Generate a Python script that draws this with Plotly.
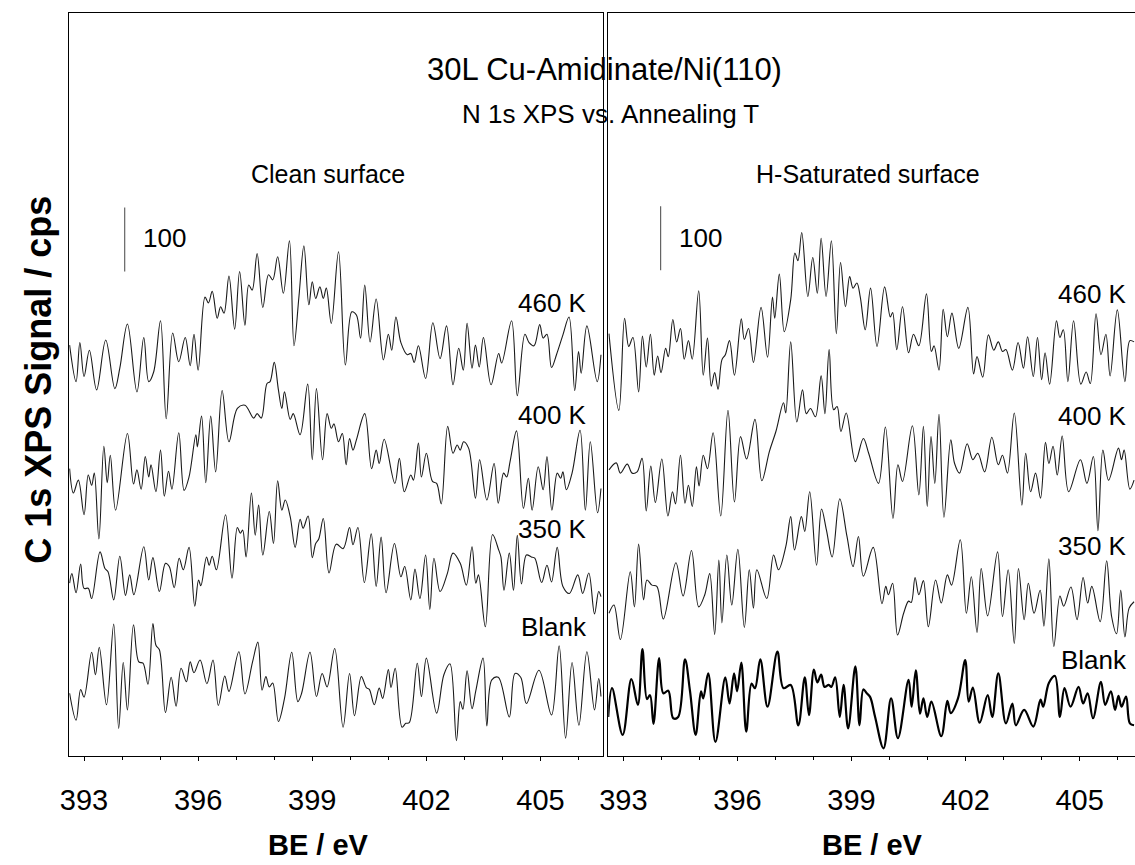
import plotly.graph_objects as go

# ---------------- data (BE in eV, signal in cps incl. stacking offset) ----------------
clean_460_be = [392.62,392.79,392.89,393.00,393.14,393.33,393.57,393.81,393.94,394.14,
394.39,394.57,394.70,394.83,395.01,395.16,395.33,395.49,395.66,395.79,
395.89,396.00,396.18,396.27,396.37,396.50,396.59,396.68,396.81,396.96,
397.09,397.23,397.33,397.42,397.55,397.70,397.85,397.96,398.09,398.24,
398.40,398.52,398.65,398.78,398.91,399.00,399.09,399.20,399.29,399.37,
399.50,399.69,399.87,400.04,400.16,400.27,400.38,400.52,400.68,400.87,
401.00,401.09,401.20,401.33,401.50,401.59,401.68,401.79,401.98,402.17,
402.36,402.53,402.70,402.85,402.97,403.07,403.20,403.29,403.39,403.50,
403.70,403.90,403.98,404.24,404.39,404.59,404.70,404.83,404.98,405.07,
405.17,405.29,405.42,405.59,405.75,405.90,406.00,406.07,406.22,406.49,406.59]
clean_460_cps = [642,585,646,593,634,572,650,574,606,675,
569,654,585,600,680,527,661,616,654,610,
659,603,717,708,726,684,702,692,750,667,
757,673,736,728,785,701,752,744,780,723,
805,641,718,797,705,741,715,733,715,731,
676,788,611,694,689,653,736,647,714,619,
659,634,686,646,627,629,615,641,590,677,
621,672,580,637,603,676,606,642,608,654,
580,629,614,680,563,659,646,641,674,653,
659,607,627,658,686,571,632,598,672,585,627]

clean_400_be = [392.62,392.72,392.85,393.00,393.11,393.20,393.27,393.39,393.52,393.61,
393.69,393.83,394.14,394.30,394.39,394.50,394.61,394.70,394.76,394.89,
395.01,395.11,395.22,395.31,395.49,395.63,395.76,395.94,395.98,396.09,
396.20,396.33,396.46,396.63,396.81,397.03,397.23,397.46,397.55,397.66,
397.81,397.89,398.00,398.11,398.20,398.27,398.42,398.50,398.68,398.88,
399.00,399.11,399.27,399.39,399.50,
399.57,399.69,399.79,399.89,399.98,400.07,400.16,400.38,400.56,400.68,400.76,400.89,
401.17,401.29,401.42,401.59,401.66,401.79,401.87,402.00,402.16,402.27,402.39,
402.56,402.70,402.81,402.89,402.98,403.11,403.29,403.40,403.59,403.78,403.89,
404.03,404.11,404.20,404.37,404.55,404.68,404.78,404.94,405.07,405.17,405.30,
405.44,405.53,405.59,405.68,405.83,406.04,406.18,406.31,406.50,406.59]
clean_400_cps = [449,411,431,377,439,423,442,339,484,427,
470,384,504,425,447,417,468,436,455,413,
478,406,445,417,505,415,436,502,483,531,
427,531,444,571,491,543,548,528,535,528,
582,585,615,572,543,569,526,535,502,581,
463,574,463,535,512,
519,491,504,455,496,478,494,535,449,478,457,495,
426,465,413,439,431,489,436,473,429,426,394,
515,473,486,478,491,481,403,463,400,457,395,
442,436,460,508,387,434,384,452,416,468,384,
442,434,444,416,442,509,384,491,380,418]

clean_350_be = [392.62,392.68,392.79,392.91,393.00,393.11,393.20,393.42,393.55,393.63,
393.78,393.94,394.09,394.20,394.31,394.57,394.70,394.81,394.98,395.14,
395.24,395.37,395.50,395.61,395.76,395.91,396.01,396.07,396.22,396.29,
396.37,396.48,396.72,396.89,397.03,397.11,397.17,397.26,397.40,397.50,
397.59,397.70,397.87,397.98,398.09,398.20,398.29,398.42,398.55,398.68,
398.76,398.89,399.00,399.09,399.17,399.29,399.44,
399.63,399.81,399.98,400.07,400.20,400.37,400.55,400.68,400.81,400.94,
401.16,401.33,401.43,401.59,401.70,401.83,401.98,402.09,402.20,402.36,
402.55,402.70,402.89,403.05,403.20,403.30,403.37,403.55,403.74,403.90,
403.96,404.04,404.18,404.29,404.39,404.50,404.63,404.76,404.85,405.03,
405.17,405.29,405.44,405.59,405.76,405.98,406.11,406.27,406.42,406.53,406.59]
clean_350_cps = [270,285,255,300,262,262,246,319,293,288,
244,312,251,283,252,327,275,310,257,301,
296,263,309,291,326,234,275,266,311,298,
312,291,377,278,357,348,353,311,411,345,
392,314,382,332,430,384,400,374,326,370,
356,375,310,332,339,371,286,
331,324,357,330,357,271,347,265,342,255,
332,280,296,244,292,246,314,229,309,257,
285,317,301,267,327,270,283,202,346,322,
311,259,317,259,345,269,314,311,309,271,
298,272,326,265,254,283,254,286,222,257,249]

clean_blank_be = [392.62,392.79,392.91,393.00,393.20,393.30,393.40,393.59,393.78,393.91,
394.03,394.14,394.30,394.44,394.55,394.68,394.81,394.89,394.98,395.14,
395.29,395.42,395.55,395.69,395.79,395.89,396.05,396.23,396.39,396.53,
396.70,396.81,397.07,397.23,397.43,397.57,397.68,397.78,397.87,397.96,
398.11,398.27,398.46,398.62,398.72,398.94,399.11,399.26,399.39,399.59,
399.81,399.98,400.11,400.29,400.42,400.50,400.63,400.76,400.85,401.00,
401.07,401.18,401.36,401.46,401.55,401.76,401.87,402.00,402.27,402.46,
402.62,402.79,402.89,402.96,403.07,403.20,403.30,403.49,403.59,403.72,
403.89,404.18,404.33,404.48,404.63,404.96,405.29,405.49,405.66,405.83,
406.01,406.22,406.42,406.53,406.59]
clean_blank_cps = [98,56,104,92,162,127,170,80,206,43,
146,72,205,147,145,112,207,173,166,68,
123,78,137,116,147,130,150,113,150,79,
125,101,163,97,147,178,103,124,108,114,
54,90,162,85,98,162,93,129,108,168,
45,129,63,124,107,104,80,106,90,135,
107,137,45,51,52,145,93,153,67,127,
144,24,85,73,133,74,102,153,47,119,
123,61,129,123,82,134,64,172,28,146,
48,163,72,121,93]

hsat_460_be = [392.62,392.88,393.03,393.14,393.25,393.40,393.50,393.60,393.71,393.81,
393.90,393.99,394.11,394.18,394.30,394.40,394.50,394.60,394.71,394.81,
394.98,395.10,395.21,395.31,395.40,395.49,395.59,395.68,395.79,395.92,
396.10,396.18,396.29,396.42,396.62,396.79,396.92,396.98,397.10,397.23,
397.40,397.51,397.59,397.69,397.85,397.98,398.10,398.20,398.33,398.47,
398.60,398.71,398.84,398.95,399.04,399.14,399.23,399.36,
399.50,399.67,399.87,400.02,400.08,400.19,400.34,400.50,400.63,400.77,
400.97,401.10,401.17,401.30,401.41,401.52,401.64,401.82,402.06,402.21,
402.30,402.45,402.60,402.74,402.86,402.97,403.06,403.23,403.38,403.52,
403.63,403.78,403.89,404.00,404.09,404.21,404.39,404.48,404.57,404.69,
404.84,405.03,405.17,405.28,405.43,405.56,405.69,405.80,405.99,406.19,406.32,406.43]
hsat_460_cps = [660,540,684,640,654,569,656,608,659,595,
625,599,637,624,682,647,668,620,649,620,
727,595,653,578,599,573,619,627,649,595,
683,651,668,615,701,623,717,684,753,663,
713,786,774,818,718,779,723,809,718,805,
660,771,702,749,731,739,717,666,
731,640,733,686,693,635,702,630,659,641,
722,632,641,603,698,655,692,637,701,597,
624,592,658,634,647,632,635,603,646,606,
655,593,654,588,630,581,680,654,666,585,
680,581,600,582,691,627,659,594,697,585,649,647]

hsat_400_be = [392.62,392.81,392.92,393.10,393.23,393.36,393.49,393.60,393.72,393.84,
394.01,394.17,394.29,394.37,394.50,394.62,394.71,394.81,394.92,394.99,
395.10,395.21,395.36,395.56,395.75,395.92,396.08,396.24,396.46,396.64,
396.84,397.01,397.21,397.27,397.40,397.56,397.71,397.81,397.92,398.05,
398.20,398.30,398.41,398.53,398.62,398.72,398.86,399.10,399.31,
399.45,399.71,399.89,400.09,400.22,400.34,400.60,400.77,400.89,400.99,
401.09,401.19,401.30,401.43,401.61,401.71,401.84,402.04,402.19,402.32,
402.50,402.69,402.86,402.97,403.10,403.28,403.48,403.58,403.71,403.84,
403.97,404.10,404.19,404.30,404.41,404.54,404.71,405.02,405.19,405.36,
405.48,405.61,405.76,406.02,406.10,406.17,406.32,406.43]
hsat_400_cps = [447,458,442,456,442,444,465,383,453,396,
464,375,413,394,470,395,423,390,452,422,
470,449,505,375,540,397,499,464,526,430,
476,507,552,536,647,522,572,535,543,530,
594,535,635,541,546,507,536,460,496,
473,426,514,371,455,429,516,408,515,390,
499,426,534,373,494,457,442,488,463,473,
444,498,455,470,442,536,392,473,413,442,
403,490,457,484,439,500,413,463,426,468,
352,478,431,481,463,478,417,431]

hsat_350_be = [392.62,392.75,392.92,393.18,393.29,393.40,393.53,393.62,393.75,393.88,
394.05,394.38,394.57,394.79,394.98,395.14,395.27,395.40,395.51,395.59,
395.72,395.85,396.01,396.18,396.31,396.42,396.51,396.77,396.95,397.08,
397.27,397.40,397.50,397.68,397.77,397.90,398.08,398.21,398.34,398.49,
398.69,398.88,399.04,399.18,399.31,399.57,
399.80,399.90,399.97,400.08,400.21,400.37,400.50,400.57,400.67,400.77,
400.89,401.02,401.21,401.36,401.52,401.63,401.86,402.02,402.15,402.30,
402.41,402.58,402.84,402.97,403.12,403.28,403.39,403.54,403.65,
403.80,403.96,404.06,404.19,404.32,404.48,404.58,404.77,404.93,405.09,
405.21,405.32,405.54,405.71,405.84,405.97,406.08,406.19,406.30,406.43]
hsat_350_cps = [223,236,182,288,233,331,244,275,267,265,
214,302,250,321,233,252,285,190,306,208,
314,236,323,201,291,231,291,246,314,291,
327,374,322,374,351,413,298,386,353,311,
402,343,296,343,281,326,
238,265,252,270,189,223,242,240,279,252,
274,202,275,239,283,267,338,223,280,193,
293,219,319,218,291,176,293,213,270,
223,259,203,308,171,250,234,264,213,279,
239,265,210,305,218,191,259,186,231,241]

hsat_blank_be = [392.60,392.70,392.98,393.21,393.38,393.50,393.62,393.70,393.79,393.94,
394.05,394.18,394.31,394.44,394.62,394.75,394.90,395.04,395.10,395.23,
395.42,395.68,395.79,395.91,395.99,396.10,396.23,396.37,396.46,396.60,
396.79,397.05,397.21,397.40,397.60,397.77,397.88,398.01,398.10,398.20,
398.29,398.40,398.47,398.57,398.69,398.79,398.91,399.10,399.21,399.31,
399.40,399.49,399.62,
399.84,400.04,400.22,400.50,400.58,400.69,400.80,400.89,400.99,401.10,
401.36,401.52,401.61,401.80,401.99,402.08,402.19,402.37,402.58,402.70,
402.86,403.06,403.23,403.32,403.54,403.78,403.97,404.04,404.19,404.35,
404.48,404.60,404.76,404.97,405.09,405.21,405.35,405.56,405.67,405.82,
405.93,406.02,406.10,406.22,406.32,406.43]
hsat_blank_cps = [61,106,33,120,80,167,89,95,50,153,
98,102,59,61,151,102,33,101,90,129,
22,123,82,129,101,146,38,113,106,151,
77,163,106,111,48,123,64,135,115,127,
108,111,108,123,61,111,43,140,48,104,
98,92,61,
12,90,28,119,77,134,66,90,61,85,
31,86,67,90,150,85,107,52,95,61,
129,51,82,48,72,46,88,77,114,125,
61,106,77,108,82,98,59,116,80,101,
72,94,77,93,51,48]

trace_labels = ["460 K", "400 K", "350 K", "Blank"]
clean_label_cps = [708, 533, 355, 202]
hsat_label_cps = [722, 531, 328, 150]
tick_values = [393, 396, 399, 402, 405]
scale_bar_cps = 100
clean_bar_be, clean_bar_base = 394.07, 757
hsat_bar_be, hsat_bar_base = 393.98, 759

# ---------------- figure ----------------
W, H = 1135, 865
FONT = "Liberation Sans, Arial, sans-serif"
LINE = "#1a1a1a"

fig = go.Figure()

left = [(clean_460_be, clean_460_cps), (clean_400_be, clean_400_cps),
        (clean_350_be, clean_350_cps), (clean_blank_be, clean_blank_cps)]
right = [(hsat_460_be, hsat_460_cps), (hsat_400_be, hsat_400_cps),
         (hsat_350_be, hsat_350_cps), (hsat_blank_be, hsat_blank_cps)]

for be, cps in left:
    fig.add_trace(go.Scatter(x=be, y=cps, mode="lines", xaxis="x", yaxis="y",
                             line=dict(color=LINE, width=1.1, shape="spline", smoothing=1.0),
                             hoverinfo="skip", showlegend=False))
for i, (be, cps) in enumerate(right):
    w = 2.2 if i == 3 else 1.1
    c = "#000000" if i == 3 else LINE
    fig.add_trace(go.Scatter(x=be, y=cps, mode="lines", xaxis="x2", yaxis="y2",
                             line=dict(color=c, width=w, shape="spline", smoothing=1.0),
                             hoverinfo="skip", showlegend=False))

# scale bars (100 cps)
fig.add_trace(go.Scatter(x=[clean_bar_be, clean_bar_be],
                         y=[clean_bar_base, clean_bar_base + scale_bar_cps],
                         mode="lines", xaxis="x", yaxis="y",
                         line=dict(color="#444444", width=1), hoverinfo="skip", showlegend=False))
fig.add_trace(go.Scatter(x=[hsat_bar_be, hsat_bar_be],
                         y=[hsat_bar_base, hsat_bar_base + scale_bar_cps],
                         mode="lines", xaxis="x2", yaxis="y2",
                         line=dict(color="#444444", width=1), hoverinfo="skip", showlegend=False))

y_dom = [(H - 756) / H, (H - 13) / H]
y_rng = [0, 743 / 0.64]

xcommon = dict(showgrid=False, zeroline=False, showline=True, mirror=True,
               linecolor="#000000", linewidth=1, ticks="outside", ticklen=4,
               tickwidth=1, tickcolor="#000000", tickvals=tick_values,
               ticklabelstandoff=14,
               tickfont=dict(family=FONT, size=29, color="#000000"),
               minor=dict(dtick=1, tick0=393, ticks="outside", ticklen=3,
                          tickcolor="#000000", showgrid=False))
ycommon = dict(showgrid=False, zeroline=False, showticklabels=False, ticks="",
               range=y_rng, domain=y_dom, showline=True, linecolor="#000000", linewidth=1)

fig.update_layout(
    width=W, height=H,
    margin=dict(l=0, r=0, t=0, b=0),
    paper_bgcolor="white", plot_bgcolor="white",
    xaxis=dict(domain=[60.7 / W, 599 / W], range=[392.61, 406.65], anchor="y", **xcommon),
    yaxis=dict(anchor="x", mirror=True, **ycommon),
    xaxis2=dict(domain=[604 / W, 1.0], range=[392.60, 406.455], anchor="y2", **xcommon),
    yaxis2=dict(anchor="x2", mirror=False, **ycommon),
    font=dict(family=FONT, color="#000000"),
)

ann = []
def paper_text(text, px, py, size, bold=False, angle=0):
    ann.append(dict(text=f"<b>{text}</b>" if bold else text, x=px / W, y=1 - py / H,
                    xref="paper", yref="paper", showarrow=False, textangle=angle,
                    xanchor="center", yanchor="middle",
                    font=dict(family=FONT, size=size, color="#000000")))

paper_text("30L Cu-Amidinate/Ni(110)", 600, 69, 31)
paper_text("N 1s XPS vs. Annealing T", 606, 114, 26)
paper_text("Clean surface", 322, 174, 25)
paper_text("H-Saturated surface", 866, 174, 25)
paper_text("BE / eV", 312, 845, 29, bold=True)
paper_text("BE / eV", 870, 845, 29, bold=True)
paper_text("C 1s XPS Signal / cps", 29, 380, 36, bold=True, angle=-90)

for lab, yv in zip(trace_labels, clean_label_cps):
    ann.append(dict(text=lab, x=406.27, y=yv, xref="x", yref="y", showarrow=False,
                    xanchor="right", yanchor="middle",
                    font=dict(family=FONT, size=26, color="#000000")))
for lab, yv in zip(trace_labels, hsat_label_cps):
    ann.append(dict(text=lab, x=406.31, y=yv, xref="x2", yref="y2", showarrow=False,
                    xanchor="right", yanchor="middle",
                    font=dict(family=FONT, size=26, color="#000000")))

ann.append(dict(text=str(scale_bar_cps), x=394.50, y=809, xref="x", yref="y", showarrow=False,
                xanchor="left", yanchor="middle", font=dict(family=FONT, size=26, color="#000000")))
ann.append(dict(text=str(scale_bar_cps), x=394.40, y=809, xref="x2", yref="y2", showarrow=False,
                xanchor="left", yanchor="middle", font=dict(family=FONT, size=26, color="#000000")))

fig.update_layout(annotations=ann)
fig.write_html("out.html")
